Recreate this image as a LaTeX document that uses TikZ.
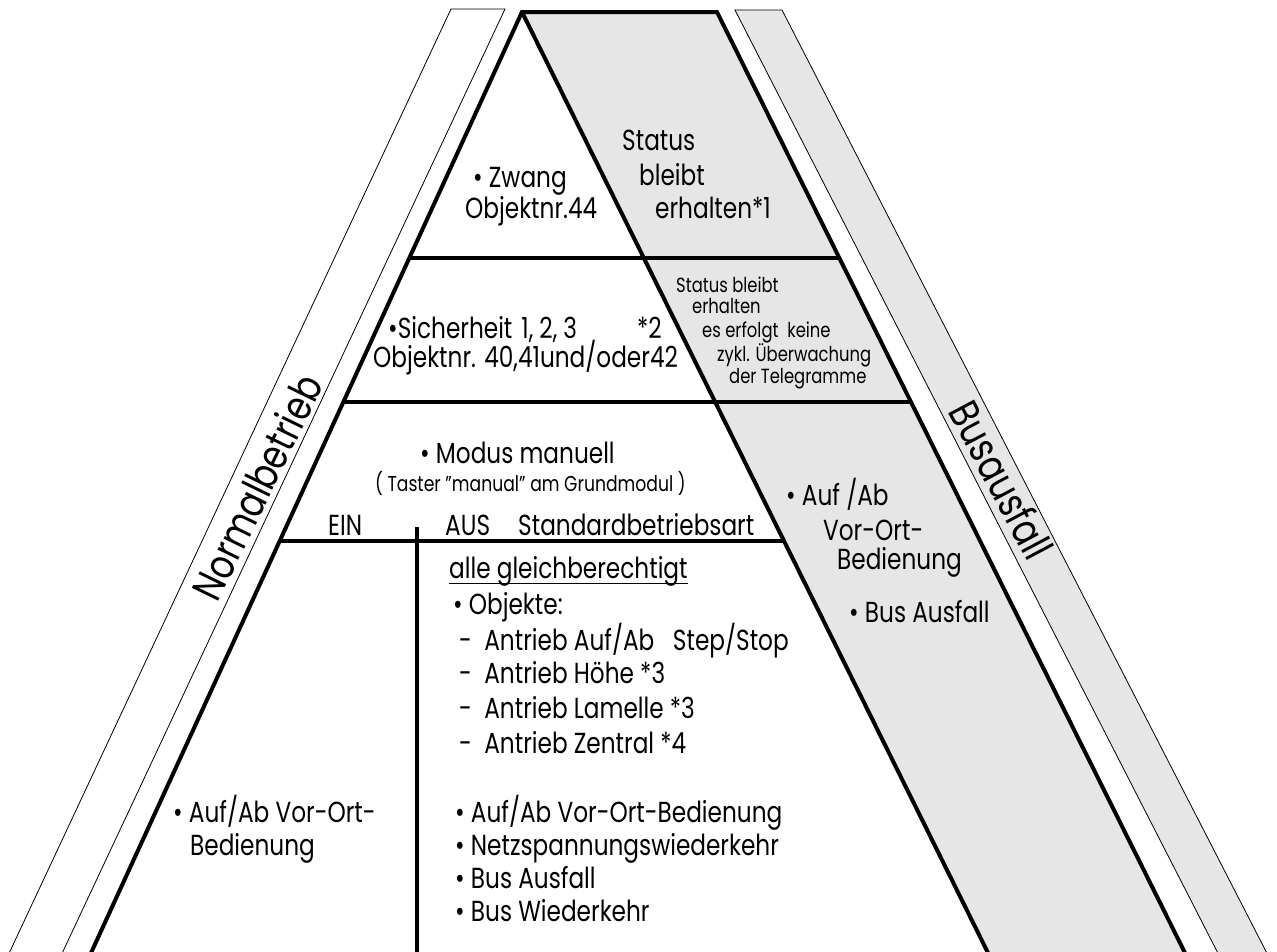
\documentclass[tikz,border=0pt]{standalone}
\usepackage{fontspec}
\setmainfont{Poppins}[FakeStretch=0.8]
\definecolor{bandgray}{HTML}{E6E6E6}
\begin{document}
\begin{tikzpicture}[x=1pt,y=-1pt,
  heavy/.style={line width=4pt},
  hair/.style={line width=0.8pt},
  txt/.style={anchor=base west, inner sep=0pt, font=\fontsize{29}{32}\selectfont},
  smalltxt/.style={anchor=base west, inner sep=0pt, font=\fontsize{20.5}{23}\selectfont},
  bandlabel/.style={inner sep=0pt, font=\fontsize{42}{46}\selectfont},
  ]
\useasboundingbox (0,0) rectangle (1277,951);
\begin{scope}
\clip (0,0) rectangle (1277,951);
% side bands
\draw[hair, fill=white] (3.6,965) -- (451,9) -- (505,9) -- (56.6,965);
\draw[hair, fill=bandgray] (1224,965) -- (735,10) -- (782,10) -- (1273,965);
% grey part of pyramid
\fill[bandgray] (522,12) -- (717,12) -- (1191,965) -- (994,965) -- cycle;
% pyramid outline
\coordinate (apex) at (522,12);
\coordinate (topR) at (717,12);
\draw[heavy, line join=miter] (85.5,965) -- (apex) -- (topR) -- (1191,965);
\draw[heavy] (apex) -- (994,965);
% horizontal levels
\draw[heavy] (409.3,258) -- (839.5,258);
\draw[heavy] (343.4,402) -- (911,402);
\draw[heavy] (279.7,541) -- (783.9,541);
\draw[line width=4.5pt] (417,527) -- (417,965);
\end{scope}

% band labels
\node[bandlabel, rotate=64] (normal) at (257,487) {Normalbetrieb};
\node[bandlabel, rotate=-62] (bus) at (1002,480) {Busausfall};

% top level
\node[txt] (zwang) at (473,187) {• Zwang};
\node[txt] (obj44) at (465,218) {Objektnr.44};
\node[txt] (st1) at (622,150) {Status};
\node[txt] (st2) at (639,185) {bleibt};
\node[txt] (st3) at (655,218) {erhalten*1};

% second level
\node[txt] (sich) at (388,338) {•Sicherheit\hspace{9pt}1,\hspace{6pt}2,\hspace{6pt}3};
\node[txt] (star2) at (637,338) {*2};
\node[txt] (obj40) at (373,367) {Objektnr. 40,41und/oder42};
\node[smalltxt] (s1) at (676,292) {Status bleibt};
\node[smalltxt] (s2) at (692,313) {erhalten};
\node[smalltxt] (s3) at (702,337) {es erfolgt\ \ keine};
\node[smalltxt] (s4) at (717,361) {zykl. Überwachung};
\node[smalltxt] (s5) at (729,383) {der Telegramme};

% third level
\node[txt] (modus) at (420,463) {• Modus manuell};
\node[smalltxt, font=\fontsize{21.5}{24}\selectfont] (taster) at (375,491) {( Taster ''manual'' am Grundmodul )};
\node[txt] (ein) at (328,535) {EIN};
\node[txt] (aus) at (445,535) {AUS};
\node[txt] (std) at (518,535) {Standardbetriebsart};

% bottom level
\node[txt] (alle) at (449,578) {alle gleichberechtigt};
\draw[line width=1pt] ([yshift=-5pt]alle.base west) -- ([yshift=-5pt]alle.base east);
\node[txt] (objekte) at (453,614) {• Objekte:};
\node[txt] (a1) at (459,650) {-\ \ Antrieb Auf/Ab\ \ \ Step/Stop};
\node[txt] (a2) at (459,683) {-\ \ Antrieb Höhe *3};
\node[txt] (a3) at (459,718) {-\ \ Antrieb Lamelle *3};
\node[txt] (a4) at (459,753) {-\ \ Antrieb Zentral *4};
\node[txt] (b1) at (455,822) {• Auf/Ab Vor-Ort-Bedienung};
\node[txt] (b2) at (455,855) {• Netzspannungswiederkehr};
\node[txt] (b3) at (455,888) {• Bus Ausfall};
\node[txt] (b4) at (455,921) {• Bus Wiederkehr};
\node[txt] (l1) at (173,822) {• Auf/Ab Vor-Ort-};
\node[txt] (l2) at (190,855) {Bedienung};

% grey lower part
\node[txt] (g1) at (786,505) {• Auf /Ab};
\node[txt] (g2) at (823,540) {Vor-Ort-};
\node[txt] (g3) at (837,569) {Bedienung};
\node[txt] (g4) at (849,622) {• Bus Ausfall};
\end{tikzpicture}
\end{document}
